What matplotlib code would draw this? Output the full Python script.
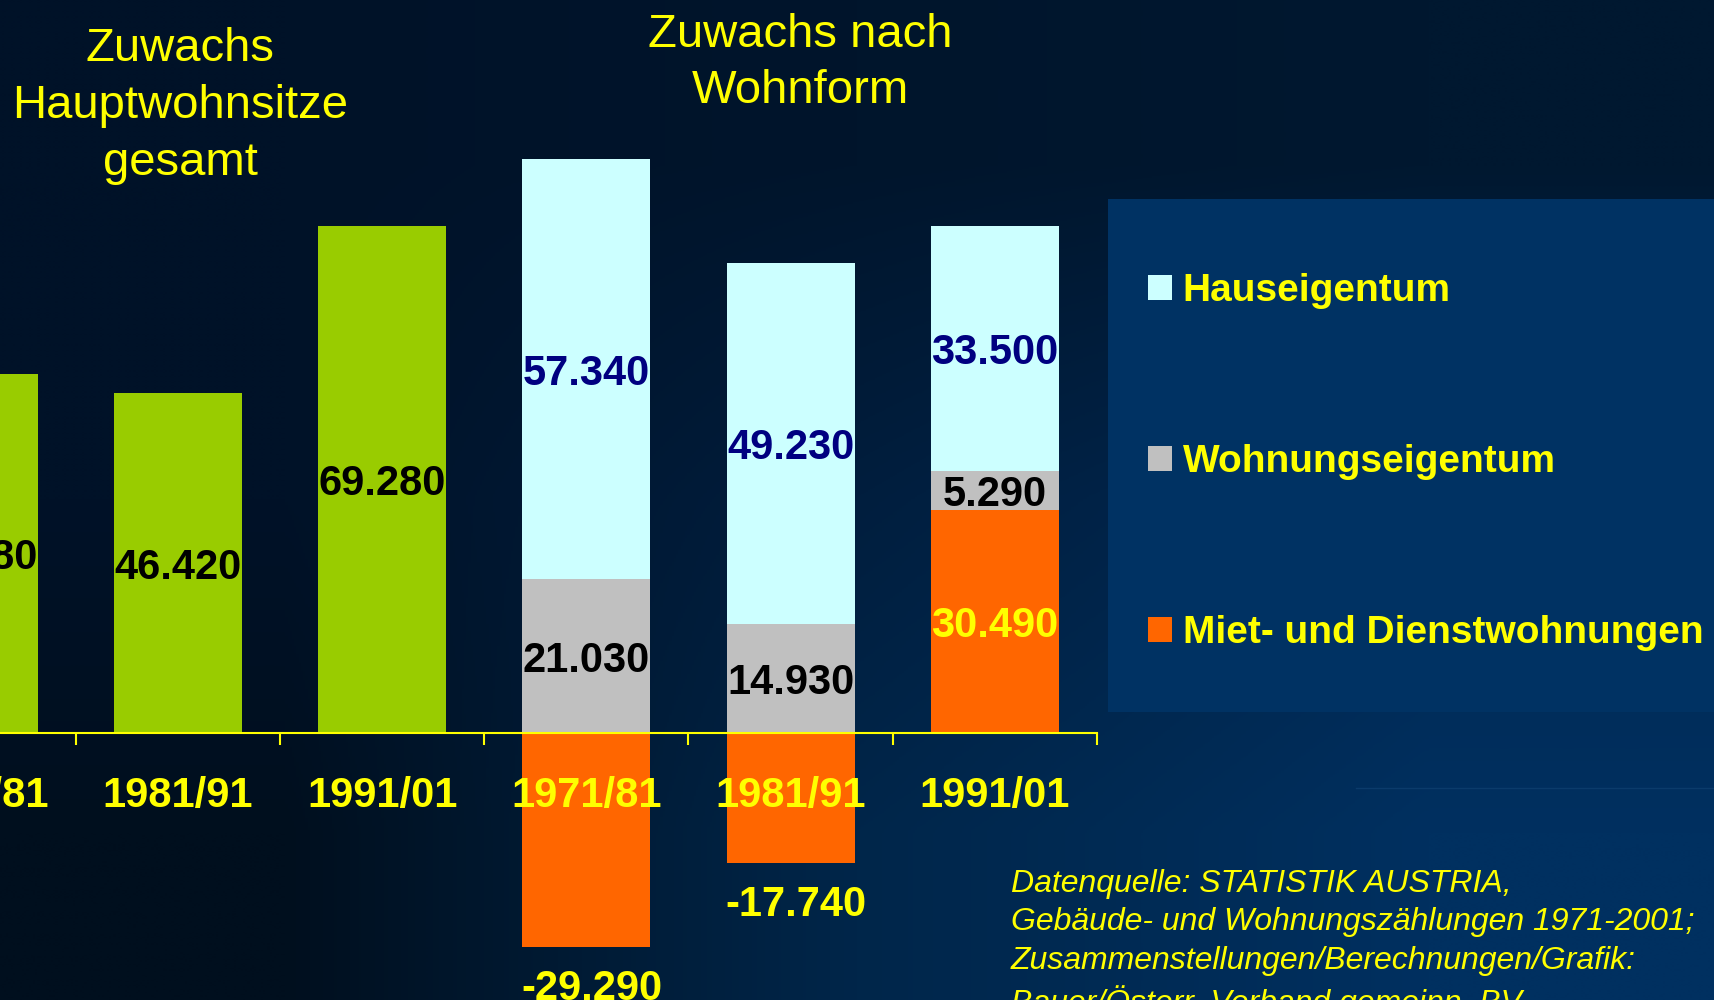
import numpy as np
import matplotlib
matplotlib.use("Agg")
import matplotlib.pyplot as plt
from matplotlib.patches import Patch, Rectangle

plt.rcParams['font.family'] = ['Liberation Sans', 'DejaVu Sans']

# data
periods = ["1971/81", "1981/91", "1991/01"]
total = [49080, 46420, 69280]
haus = [57340, 49230, 33500]
wohnung = [21030, 14930, 5290]
miet = [-29290, -17740, 30490]

series_names = ["Hauseigentum", "Wohnungseigentum", "Miet- und Dienstwohnungen"]
source = ("Datenquelle: STATISTIK AUSTRIA,\n"
          "Gebäude- und Wohnungszählungen 1971-2001;\n"
          "Zusammenstellungen/Berechnungen/Grafik:\n"
          "Bauer/Österr. Verband gemeinn. BV")

YELLOW = '#ffff00'
GREEN = '#99cc00'
CYAN = '#ccffff'
GREY = '#c0c0c0'
ORANGE = '#ff6600'
NAVY = '#000080'


def fmt(v):
    return f"{v:,}".replace(",", ".")


fig = plt.figure(figsize=(17.15, 10), dpi=100)

# background gradient
bg = fig.add_axes([0, 0, 1, 1], zorder=0)
grid = np.array([
    [[0x00, 0x12, 0x28], [0x00, 0x15, 0x2c], [0x00, 0x18, 0x30]],
    [[0x00, 0x12, 0x28], [0x00, 0x1e, 0x3e], [0x00, 0x28, 0x52]],
    [[0x00, 0x0f, 0x1e], [0x00, 0x26, 0x4a], [0x00, 0x30, 0x60]],
]) / 255.0
bg.imshow(grid, extent=[0, 1, 0, 1], aspect='auto', interpolation='bilinear')
bg.add_patch(Rectangle((1108 / 1715, 1 - 712 / 1000), 1 - 1108 / 1715, (712 - 199) / 1000,
                       facecolor='#003263', edgecolor='none'))
bg.plot([1356 / 1715, 1], [1 - 788 / 1000] * 2, color='#0b3b6b', lw=1)
bg.set_xlim(0, 1)
bg.set_ylim(0, 1)
bg.set_axis_off()

# main chart axes
ax = fig.add_axes([-128.5 / 1715, 0, 1225.5 / 1715, 1], zorder=1)
ax.patch.set_alpha(0)
for s in ['top', 'left', 'right']:
    ax.spines[s].set_visible(False)
ax.spines['bottom'].set_position(('data', 0))
ax.spines['bottom'].set_color(YELLOW)
ax.spines['bottom'].set_linewidth(1.5)
ax.spines['bottom'].set_zorder(3)

x_total = np.arange(3)
x_stack = np.arange(3) + 3
w = 0.626
lab = dict(ha='center', va='center_baseline', fontsize=30, fontweight='bold')

ax.bar(x_total, total, w, color=GREEN, zorder=1)
for x, v in zip(x_total, total):
    ax.text(x, v / 2, fmt(v), color='black', **lab)

base = np.maximum(miet, 0)
ax.bar(x_stack, miet, w, color=ORANGE, zorder=1)
ax.bar(x_stack, wohnung, w, bottom=base, color=GREY, zorder=1)
ax.bar(x_stack, haus, w, bottom=base + np.array(wohnung), color=CYAN, zorder=1)

for i, x in enumerate(x_stack):
    m = miet[i]
    if m < 0:
        ax.annotate(fmt(m), (x, m), xytext=(4, -27), textcoords='offset points',
                    color=YELLOW, **lab)
    else:
        ax.text(x, m / 2, fmt(m), color=YELLOW, **lab)
    ax.text(x, base[i] + wohnung[i] / 2, fmt(wohnung[i]), color='black', **lab)
    ax.text(x, base[i] + wohnung[i] + haus[i] / 2, fmt(haus[i]), color=NAVY, **lab)

ax.set_xlim(-0.5, 5.5)
ax.set_ylim(-36475, 100137)

ax.set_xticks(np.arange(6), periods + periods)
ax.set_xticks(np.arange(-0.5, 6, 1), minor=True)
ax.tick_params(axis='x', which='major', length=0, pad=31, labelsize=30,
               labelcolor=YELLOW)
ax.tick_params(axis='x', which='minor', length=8.6, width=1.5, color=YELLOW,
               direction='out')
plt.setp(ax.get_xticklabels(), fontweight='bold')
ax.set_yticks([])

# titles
fig.text(180 / 1715, 1 - 106 / 1000, "Zuwachs\nHauptwohnsitze\ngesamt", ha='center',
         va='center', fontsize=34, color=YELLOW, linespacing=1.375, zorder=5)
fig.text(800 / 1715, 1 - 63 / 1000, "Zuwachs nach\nWohnform", ha='center',
         va='center', fontsize=34, color=YELLOW, linespacing=1.375, zorder=5)

# legend
handles = [Patch(facecolor=c, edgecolor='none') for c in [CYAN, GREY, ORANGE]]
leg = fig.legend(handles, series_names, loc='upper left',
                 bbox_to_anchor=(1129 / 1715, 1 - 254 / 1000), frameon=False,
                 fontsize=28, handlelength=0.6, handleheight=0.6,
                 handletextpad=0.28, labelspacing=3.47, borderpad=0)
for t in leg.get_texts():
    t.set_color(YELLOW)
    t.set_fontweight('bold')

fig.text(1011 / 1715, 1 - 869 / 1000, source, ha='left', va='top', fontsize=23,
         style='italic', color=YELLOW, linespacing=1.36, zorder=5)

fig.savefig('out.png', dpi=100)
